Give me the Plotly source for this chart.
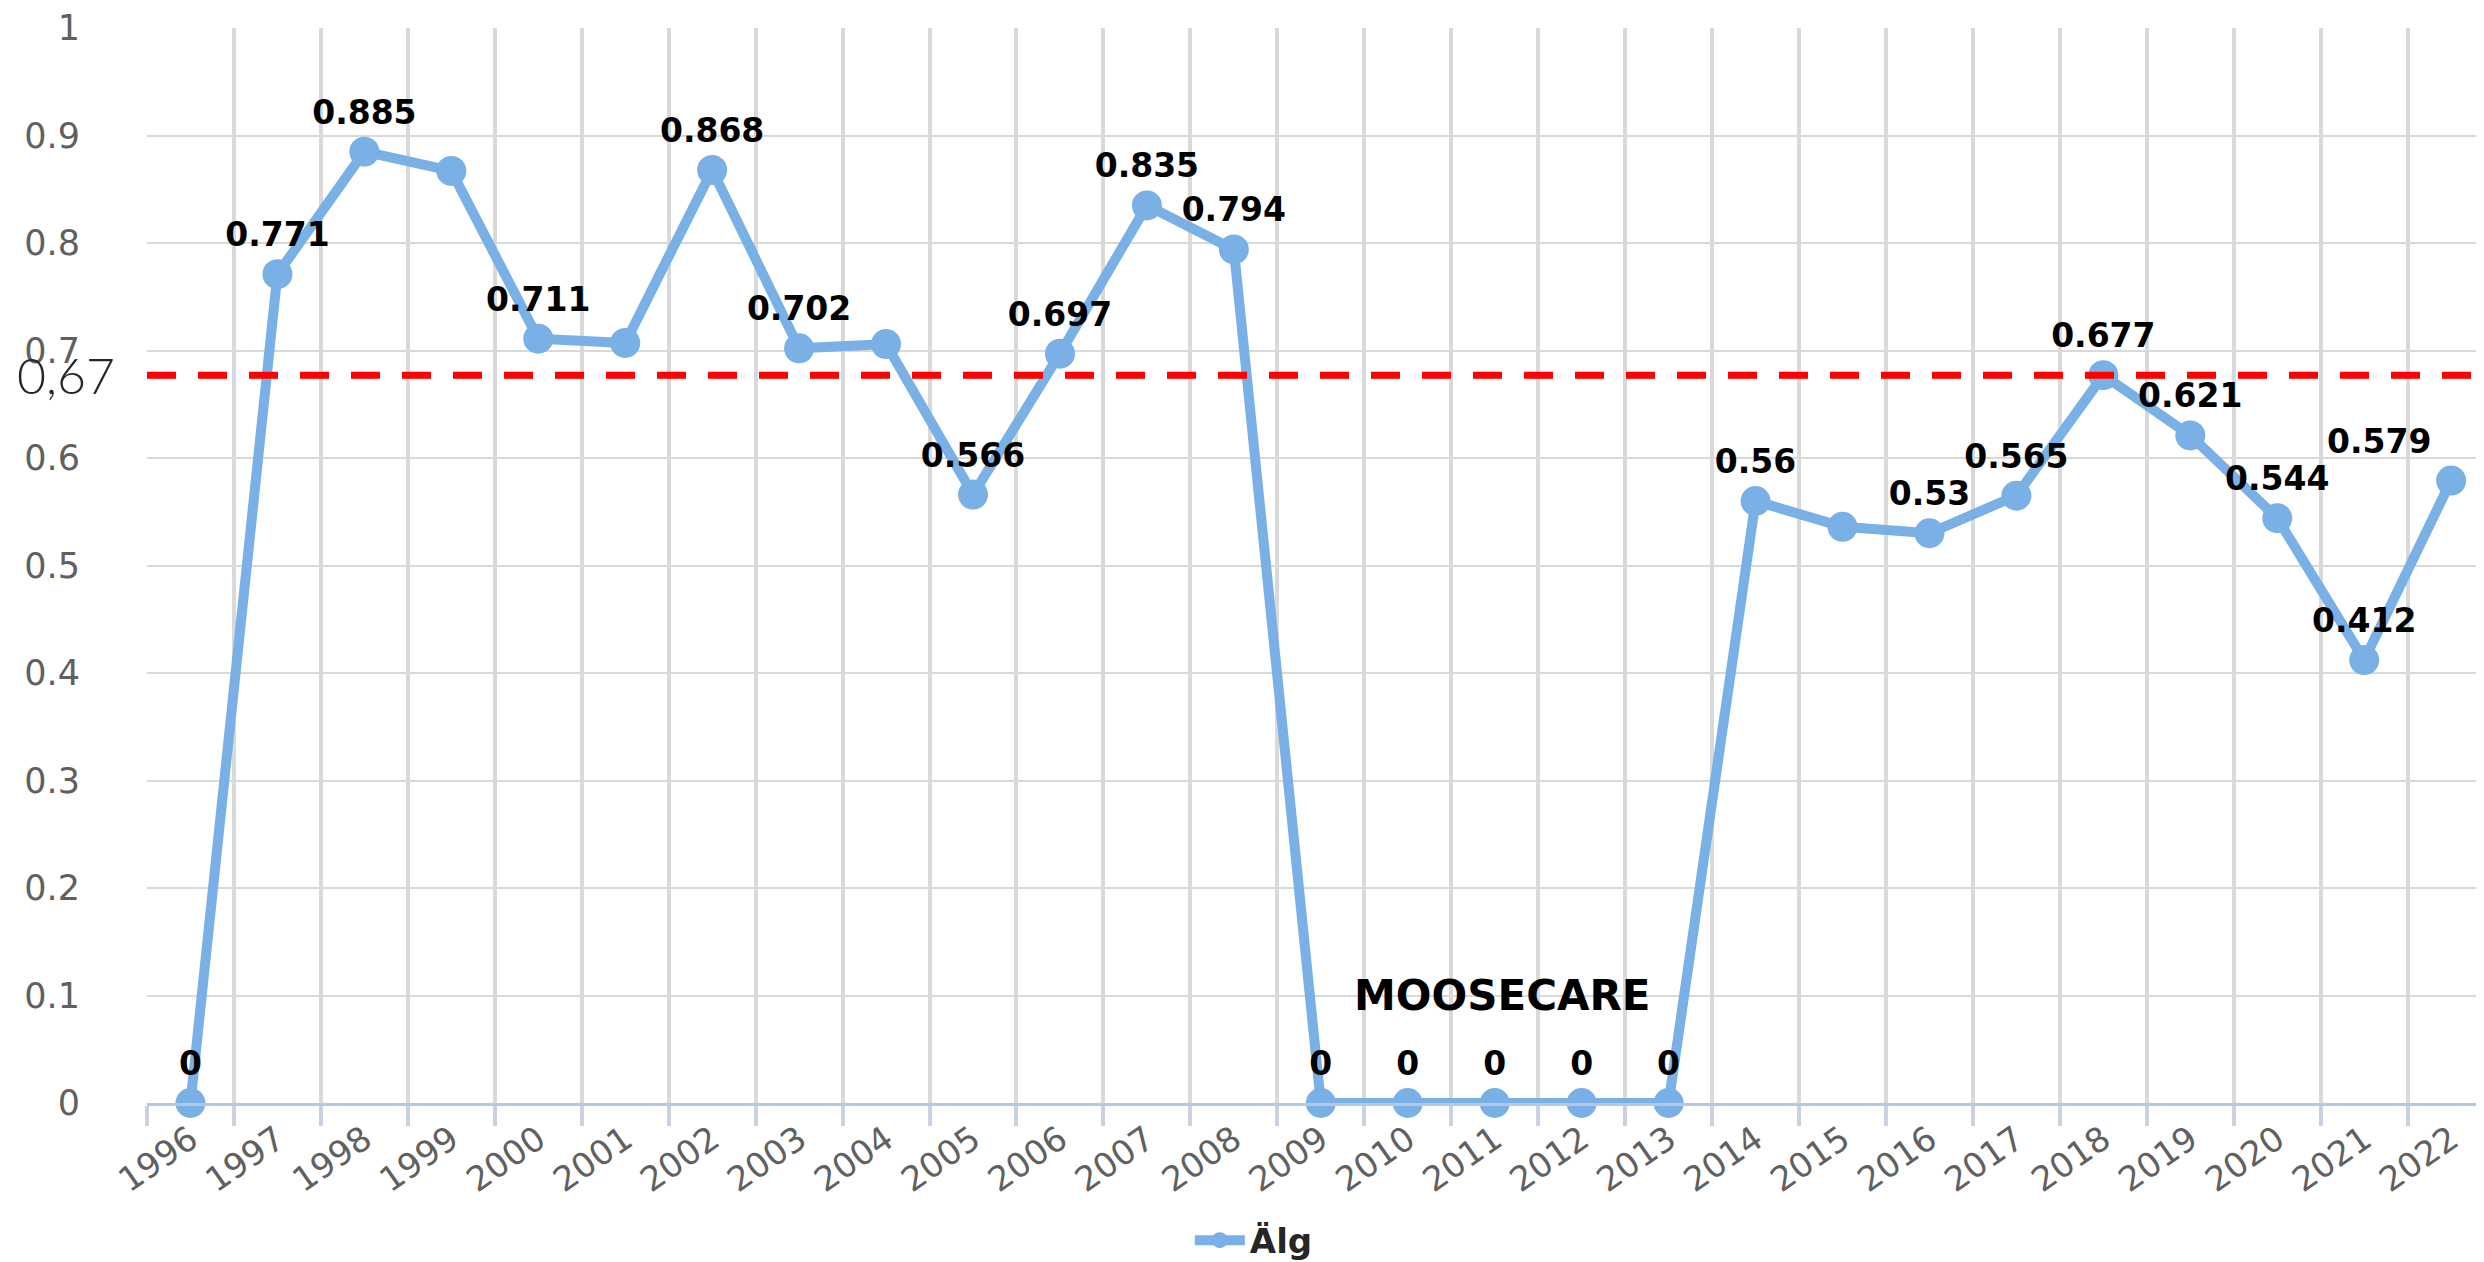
import plotly.graph_objects as go

years = ["1996", "1997", "1998", "1999", "2000", "2001", "2002", "2003", "2004",
         "2005", "2006", "2007", "2008", "2009", "2010", "2011", "2012", "2013",
         "2014", "2015", "2016", "2017", "2018", "2019", "2020", "2021", "2022"]

alg = [0, 0.771, 0.885, 0.867, 0.711, 0.707, 0.868, 0.702, 0.706,
       0.566, 0.697, 0.835, 0.794, 0, 0, 0, 0, 0,
       0.56, 0.536, 0.53, 0.565, 0.677, 0.621, 0.544, 0.412, 0.579]

# labels that are visible in the original (some points have none)
alg_labels = ["0", "0.771", "0.885", "", "0.711", "", "0.868", "0.702", "",
              "0.566", "0.697", "0.835", "0.794", "0", "0", "0", "0", "0",
              "0.56", "", "0.53", "0.565", "0.677", "0.621", "0.544", "0.412", "0.579"]

series_name = "Älg"
threshold = 0.677
threshold_text = "0,67"
note_text = "MOOSECARE"
note_year = "2011"
note_y = 0.1

blue = "#79b0e5"
grey_text = "#606060"

# last label sits against the right edge, pull it inwards
text_pos = ["top center"] * (len(years) - 1) + ["top left"]

fig = go.Figure()

fig.add_trace(go.Scatter(
    x=years, y=alg, name=series_name,
    mode="lines+markers+text",
    line=dict(color=blue, width=10),
    marker=dict(color=blue, size=30),
    text=alg_labels,
    textposition=text_pos,
    textfont=dict(family="DejaVu Sans", size=33, color="black", weight="bold"),
    cliponaxis=False,
))

fig.add_hline(y=threshold, line=dict(color="#ff0000", width=7, dash="29px,22px"))

fig.add_annotation(
    x=0, xref="paper", y=threshold, yref="y",
    xanchor="right", yanchor="middle", xshift=-30,
    text=threshold_text, showarrow=False,
    font=dict(family="Lato", size=50, color="#262626", weight=300),
)

# category axis: place the note by the index of its year
fig.add_annotation(
    x=years.index(note_year), y=note_y, xshift=8,
    text="<b>" + note_text + "</b>", showarrow=False,
    xanchor="center", yanchor="middle",
    font=dict(family="DejaVu Sans", size=42, color="black"),
)

fig.update_xaxes(
    type="category",
    range=[-0.5, len(years) - 0.53],
    automargin=False,
    tickson="boundaries",
    showgrid=True, gridcolor="#d9d9d9", gridwidth=4,
    ticks="outside", ticklen=20, tickwidth=4, tickcolor="#c8d2e2",
    showline=True, linecolor="#b4c7e7", linewidth=3,
    tickangle=-35,
    tickfont=dict(family="DejaVu Sans", size=34, color=grey_text),
)

fig.update_yaxes(
    range=[0, 1], dtick=0.1,
    automargin=False,
    showgrid=True, gridcolor="#d9d9d9", gridwidth=2,
    zeroline=False, showline=False,
    ticklabelstandoff=66,
    tickfont=dict(family="DejaVu Sans", size=35, color=grey_text),
)

fig.update_layout(
    width=2484, height=1262,
    margin=dict(l=139, r=0, t=20, b=156),
    paper_bgcolor="white", plot_bgcolor="white",
    showlegend=True,
    legend=dict(
        orientation="h", x=0.472, xanchor="center", y=-0.128, yanchor="middle",
        itemwidth=50,
        font=dict(family="DejaVu Sans", size=34, color="#262626", weight="bold"),
    ),
)

fig.write_html("out.html")
